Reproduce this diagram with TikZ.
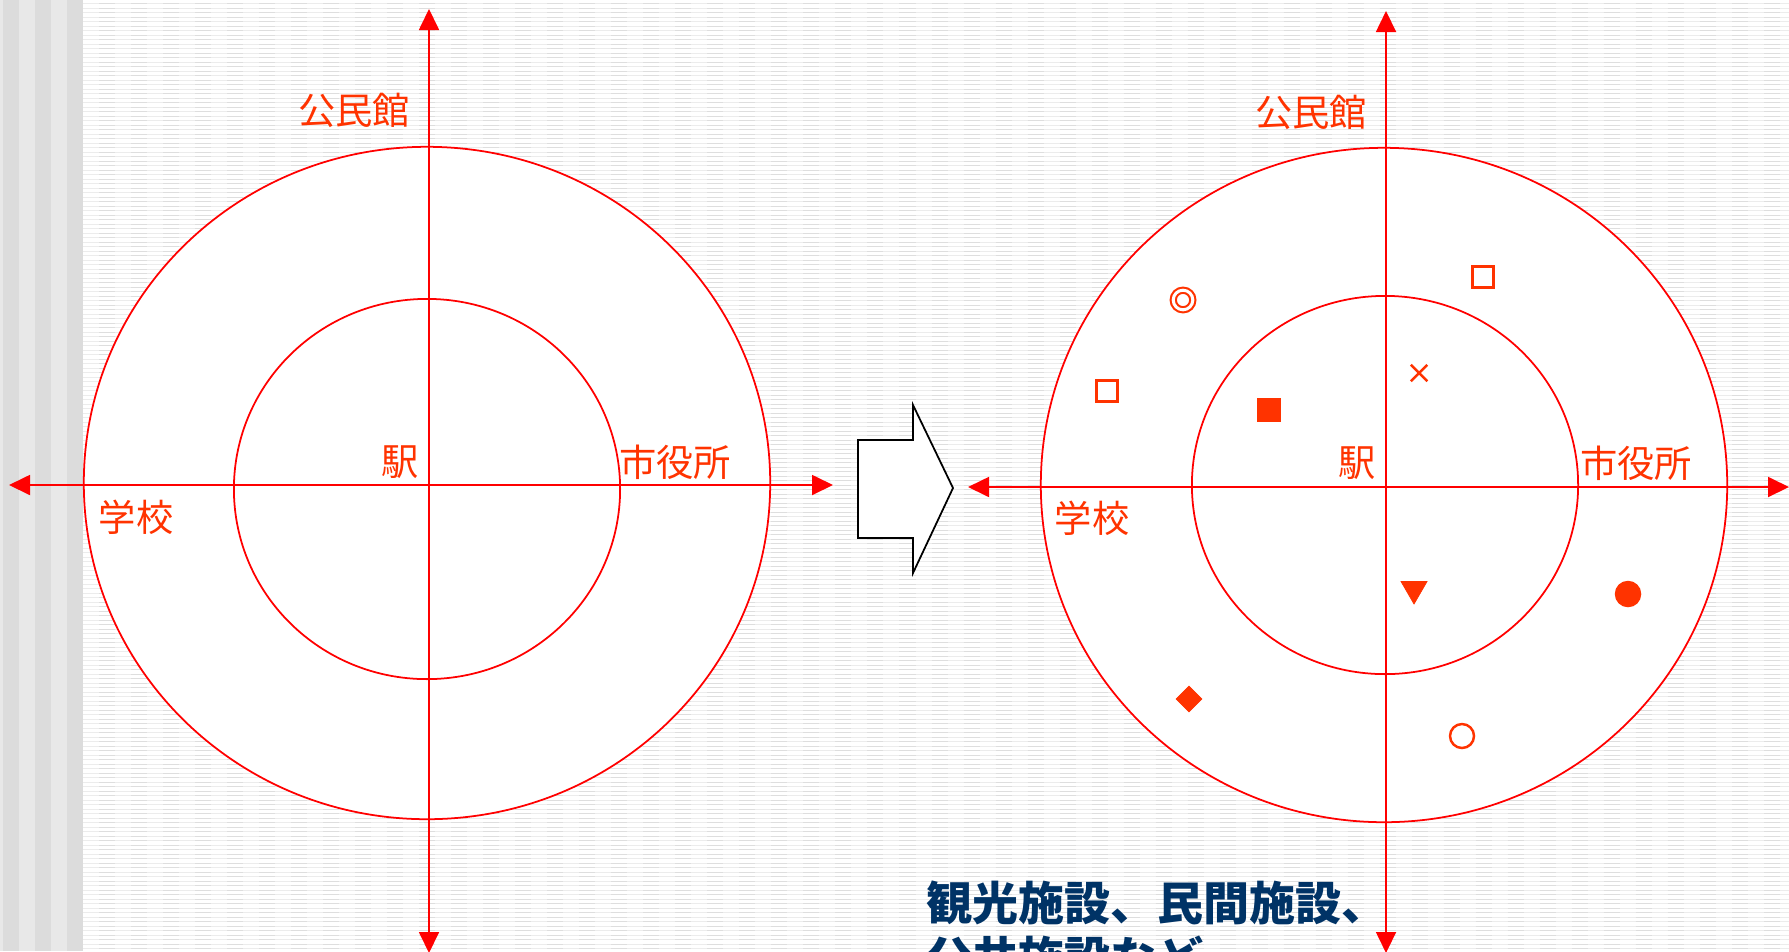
\documentclass[tikz,border=0pt]{standalone}
\usepackage{fontspec}
\newfontfamily\jpfont{Noto Sans CJK JP}
\usetikzlibrary{
    positioning,
    arrows.meta,
    shapes.geometric,
    shapes.misc
}

\begin{document}
\begin{tikzpicture}[
    x=0.01cm, y=-0.01cm,
    font=\jpfont\fontsize{10.6}{12}\selectfont,
    axis/.style={
    	draw=my-red,
    	line width=0.5pt,
    	{Triangle[length=2.1mm,width=2mm]}-{Triangle[length=2.1mm,width=2mm]}
    }, ring/.style={
    	ellipse, draw=my-red, fill=white,
    	line width=0.5pt, inner sep=0pt
    }, lbl/.style={
    	text=my-orange, inner sep=0pt
    }, mk/.style={
    	draw=my-orange, line width=0.7pt,
    	inner sep=0pt, minimum size=0.21cm
    }]
    \definecolor{my-red}{RGB}{255, 0, 0}
    \definecolor{my-orange}{RGB}{255, 51, 0}
    \definecolor{my-navy}{RGB}{0, 51, 102}
    \definecolor{my-line}{RGB}{236, 236, 236}
    \definecolor{my-line2}{RGB}{222, 222, 222}
    \definecolor{my-stripe}{RGB}{220, 220, 220}
    \definecolor{my-stripe2}{RGB}{232, 232, 232}

    \useasboundingbox (0,0) rectangle (1789,951);
    \clip (0,0) rectangle (1789,951);

    %%% background
    \fill[white] (0,0) rectangle (1789,951);
    \foreach \i in {0,...,211} {
        \draw[my-line, line width=0.28pt] (83,{3.5+4.5*\i}) -- (1789,{3.5+4.5*\i});
        \draw[my-line2, line width=0.28pt, dash pattern=on 0.16cm off 0.16cm]
            (99,{3.5+4.5*\i}) -- (1789,{3.5+4.5*\i});
    }
    \fill[my-stripe2] (0,0) rectangle (83,951);
    \foreach \i in {0,1,2}
        \fill[my-stripe] ({3+32*\i},0) rectangle ({19+32*\i},951);

    %%% left map
    \node[ring, minimum width=6.86cm, minimum height=6.72cm] (outer-l) at (427,483) {};
    \node[ring, minimum width=3.86cm, minimum height=3.80cm] (inner-l) at (427,489) {};

    \coordinate (l-top) at (429,9);
    \coordinate (l-bot) at (429,953);
    \coordinate (l-west) at (9,485);
    \coordinate (l-east) at (833,485);
    \draw[axis] (l-top) -- (l-bot);
    \draw[axis] (l-west) -- (l-east);

    \node[lbl] (hall-l) at (354,110) {公民館};
    \node[lbl] (station-l) at (400,462) {駅};
    \node[lbl] (city-l) at (675,462) {市役所};
    \node[lbl] (school-l) at (136,517) {学校};

    %%% block arrow
    \draw[black, line width=0.5pt, fill=white]
        (858,440) -- (913,440) -- (913,405) -- (953,488)
        -- (913,573) -- (913,538) -- (858,538) -- cycle;

    %%% right map
    \node[ring, minimum width=6.86cm, minimum height=6.74cm] (outer-r) at (1384,485) {};
    \node[ring, minimum width=3.86cm, minimum height=3.78cm] (inner-r) at (1385,485) {};

    \coordinate (r-top) at (1386,11);
    \coordinate (r-bot) at (1386,953);
    \coordinate (r-west) at (968,487);
    \coordinate (r-east) at (1789,487);
    \draw[axis] (r-top) -- (r-bot);
    \draw[axis] (r-west) -- (r-east);

    \node[lbl] (hall-r) at (1311,112) {公民館};
    \node[lbl] (station-r) at (1357,463) {駅};
    \node[lbl] (city-r) at (1636,463) {市役所};
    \node[lbl] (school-r) at (1092,518) {学校};

    %%% facilities
    \node[mk, circle, double, double distance=0.03cm, line width=0.6pt, minimum size=0.196cm] (fac-1) at (1183,300) {};
    \node[mk, rectangle] (fac-2) at (1483,277) {};
    \node[mk, rectangle] (fac-3) at (1107,391) {};
    \node[mk, rectangle, fill=my-orange] (fac-4) at (1269,410) {};
    \node[mk, cross out, minimum size=0.14cm] (fac-5) at (1419,373) {};
    \node[mk, regular polygon, regular polygon sides=3, shape border rotate=180,
          fill=my-orange, line width=0.2pt, minimum size=0.3cm] (fac-6) at (1414,589) {};
    \node[mk, circle, fill=my-orange, minimum size=0.24cm] (fac-7) at (1628,594) {};
    \node[mk, diamond, fill=my-orange, line width=0.2pt, minimum size=0.26cm] (fac-8) at (1189,699) {};
    \node[mk, circle, minimum size=0.24cm] (fac-9) at (1462,736) {};

    %%% caption
    \node[anchor=north west, inner sep=0pt, align=left, text=my-navy,
          font=\jpfont\bfseries\fontsize{13.1}{15.6}\selectfont] (note) at (926,880)
        {観光施設、民間施設、\\公共施設など};

\end{tikzpicture}
\end{document}
